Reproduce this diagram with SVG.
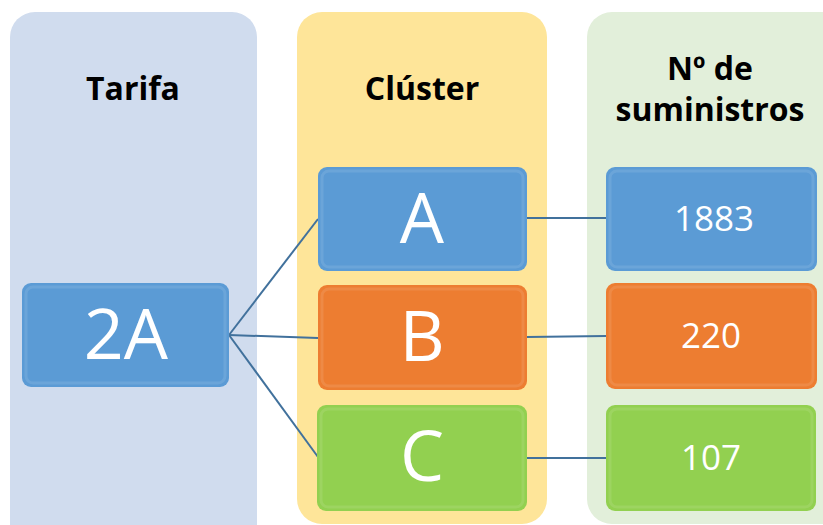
<svg xmlns="http://www.w3.org/2000/svg" width="823" height="525" viewBox="0 0 823 525">
<style>
.col{stroke:none}
.hdr{font-family:"Open Sans","Liberation Sans",sans-serif;font-weight:bold;font-size:32px;fill:#000;text-anchor:middle}
.big{font-family:"Open Sans","Liberation Sans",sans-serif;font-size:70px;fill:#fff;text-anchor:middle}
.num{font-family:"Open Sans","Liberation Sans",sans-serif;font-size:35px;fill:#fff;text-anchor:middle}
.conn{stroke:#41719c;stroke-width:2;fill:none}
.hl{fill:none;stroke:#fff;stroke-opacity:0.1;stroke-width:3}
</style>
<rect width="823" height="525" fill="#fff"/>
<g id="col-tarifa"><rect class="col" x="10" y="12" width="247" height="540" rx="25" fill="#d0dcee"/><text class="hdr" x="133" y="100">Tarifa</text></g>
<g id="col-cluster"><rect class="col" x="297" y="12" width="250" height="512" rx="25" fill="#fee599"/><text class="hdr" x="422" y="100">Clúster</text></g>
<g id="col-num"><rect class="col" x="587" y="12" width="260" height="512" rx="25" fill="#e2efda"/><text class="hdr" x="710" y="80">Nº de</text><text class="hdr" x="710" y="121">suministros</text></g>
<g id="connectors">
<line class="conn" x1="229" y1="335" x2="318" y2="219"/>
<line class="conn" x1="229" y1="335" x2="318" y2="338"/>
<line class="conn" x1="229" y1="335" x2="318" y2="457"/>
<line class="conn" x1="527" y1="218" x2="606" y2="218"/>
<line class="conn" x1="527" y1="337" x2="606" y2="336"/>
<line class="conn" x1="527" y1="458" x2="606" y2="458"/>
</g>
<g id="node-2A"><rect x="22" y="283" width="207" height="104" rx="9" fill="#5b9bd5"/><rect class="hl" x="26" y="287" width="199" height="96" rx="7"/><text class="big" x="126" y="359">2A</text></g>
<g id="node-A"><rect x="318" y="167" width="209" height="104" rx="9" fill="#5b9bd5"/><rect class="hl" x="322" y="171" width="201" height="96" rx="7"/><text class="big" x="422" y="243">A</text></g>
<g id="node-B"><rect x="318" y="285" width="209" height="105" rx="9" fill="#ed7d31"/><rect class="hl" x="322" y="289" width="201" height="97" rx="7"/><text class="big" x="422" y="361">B</text></g>
<g id="node-C"><rect x="317" y="405" width="210" height="106" rx="9" fill="#92d050"/><rect class="hl" x="321" y="409" width="202" height="98" rx="7"/><text class="big" x="422" y="481">C</text></g>
<g id="node-1883"><rect x="606" y="167" width="211" height="104" rx="9" fill="#5b9bd5"/><rect class="hl" x="610" y="171" width="203" height="96" rx="7"/><text class="num" x="714" y="231">1883</text></g>
<g id="node-220"><rect x="606" y="283" width="211" height="106" rx="9" fill="#ed7d31"/><rect class="hl" x="610" y="287" width="203" height="98" rx="7"/><text class="num" x="711" y="348">220</text></g>
<g id="node-107"><rect x="606" y="405" width="210" height="106" rx="9" fill="#92d050"/><rect class="hl" x="610" y="409" width="202" height="98" rx="7"/><text class="num" x="711" y="470">107</text></g>
</svg>
